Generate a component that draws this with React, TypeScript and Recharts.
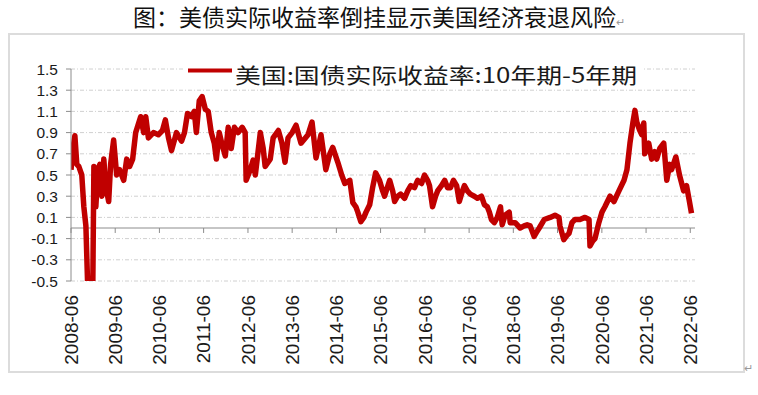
import { CSSProperties } from "react";
import { LineChart, Line, XAxis, YAxis, CartesianGrid, ReferenceLine, Legend } from "recharts";

// 美国:国债实际收益率:10年期-5年期
const dates = [
  "2008-06-01", "2008-06-17", "2008-07-03", "2008-07-19", "2008-08-05", "2008-08-29", "2008-09-15",
  "2008-10-02", "2008-10-18", "2008-11-04", "2008-11-28", "2008-12-07", "2008-12-23", "2009-01-09",
  "2009-01-25", "2009-02-11", "2009-02-27", "2009-03-14", "2009-04-08", "2009-04-24", "2009-05-19",
  "2009-06-13", "2009-07-07", "2009-08-10", "2009-09-04", "2009-09-28", "2009-10-23", "2009-11-17",
  "2009-12-28", "2010-01-22", "2010-02-08", "2010-03-02", "2010-04-13", "2010-05-23", "2010-06-26",
  "2010-07-20", "2010-08-15", "2010-09-09", "2010-10-20", "2010-12-01", "2010-12-25", "2011-01-19",
  "2011-02-21", "2011-03-16", "2011-04-02", "2011-04-26", "2011-05-20", "2011-06-15", "2011-07-09",
  "2011-08-03", "2011-08-28", "2011-09-14", "2011-10-08", "2011-11-02", "2011-11-27", "2011-12-21",
  "2012-01-15", "2012-02-10", "2012-03-12", "2012-04-15", "2012-05-09", "2012-05-17", "2012-06-20",
  "2012-07-14", "2012-08-01", "2012-09-11", "2012-10-05", "2012-10-21", "2012-12-02", "2012-12-26",
  "2013-02-07", "2013-03-09", "2013-04-03", "2013-04-28", "2013-06-01", "2013-07-03", "2013-08-13",
  "2013-10-10", "2013-11-12", "2013-12-15", "2014-01-25", "2014-03-06", "2014-04-08", "2014-05-02",
  "2014-06-13", "2014-07-15", "2014-08-10", "2014-09-20", "2014-10-15", "2014-11-09", "2014-11-25",
  "2014-12-20", "2015-01-14", "2015-02-01", "2015-03-03", "2015-03-27", "2015-04-21", "2015-05-23",
  "2015-06-18", "2015-07-04", "2015-08-15", "2015-09-09", "2015-09-25", "2015-10-20", "2015-11-14",
  "2015-12-16", "2016-01-11", "2016-02-05", "2016-03-07", "2016-04-02", "2016-05-04", "2016-05-29",
  "2016-06-23", "2016-07-09", "2016-08-03", "2016-08-28", "2016-09-14", "2016-10-16", "2016-11-11",
  "2016-12-05", "2016-12-29", "2017-01-23", "2017-02-18", "2017-03-12", "2017-04-07", "2017-04-23",
  "2017-05-17", "2017-06-11", "2017-07-14", "2017-08-08", "2017-09-11", "2017-10-05", "2017-10-29",
  "2017-11-15", "2017-12-02", "2017-12-26", "2018-01-20", "2018-02-15", "2018-03-01", "2018-03-25",
  "2018-04-28", "2018-05-06", "2018-06-16", "2018-07-27", "2018-08-29", "2018-09-23", "2018-10-18",
  "2018-11-20", "2018-12-15", "2019-01-01", "2019-02-11", "2019-04-01", "2019-05-11", "2019-06-13",
  "2019-06-21", "2019-07-23", "2019-08-18", "2019-09-04", "2019-09-28", "2019-10-23", "2019-12-03",
  "2020-01-14", "2020-02-16", "2020-02-24", "2020-03-19", "2020-04-05", "2020-05-07", "2020-06-02",
  "2020-06-26", "2020-08-07", "2020-09-09", "2020-10-20", "2020-12-01", "2020-12-25", "2021-01-19",
  "2021-02-13", "2021-03-01", "2021-03-16", "2021-04-10", "2021-04-26", "2021-05-13", "2021-05-21",
  "2021-06-23", "2021-07-17", "2021-08-12", "2021-08-28", "2021-09-22", "2021-10-25", "2021-11-19",
  "2021-12-13", "2021-12-29", "2022-02-02", "2022-03-04", "2022-04-07", "2022-05-01", "2022-05-25",
  "2022-06-11",
];

const spread = [
  0.55, 0.75, 0.87, 0.6, 0.58, 0.5, 0.2,
  0.02, -0.6, -0.65, -0.55, 0.58, 0.2, 0.55,
  0.6, 0.3, 0.65, 0.4, 0.25, 0.6, 0.83,
  0.5, 0.55, 0.45, 0.65, 0.58, 0.65, 0.9,
  1.05, 0.9, 1.05, 0.85, 0.9, 0.88, 0.92,
  1.02, 0.85, 0.73, 0.9, 0.82, 0.9, 1.08,
  1.05, 1.1, 0.9, 1.2, 1.24, 1.12, 1.1,
  0.9, 0.8, 0.65, 0.9, 0.78, 0.68, 0.95,
  0.75, 0.95, 0.9, 0.95, 0.9, 0.45, 0.55,
  0.64, 0.5, 0.9, 0.75, 0.58, 0.65, 0.85,
  0.92, 0.8, 0.62, 0.85, 0.9, 0.97, 0.8,
  0.88, 1.0, 0.66, 0.88, 0.55, 0.7, 0.76,
  0.62, 0.5, 0.42, 0.45, 0.24, 0.2, 0.15,
  0.06, 0.1, 0.15, 0.22, 0.38, 0.52, 0.45,
  0.35, 0.3, 0.45, 0.35, 0.25, 0.3, 0.32,
  0.28, 0.35, 0.4, 0.38, 0.45, 0.42, 0.5,
  0.45, 0.4, 0.2, 0.3, 0.35, 0.4, 0.45,
  0.38, 0.38, 0.45, 0.4, 0.25, 0.35, 0.4,
  0.35, 0.32, 0.3, 0.28, 0.3, 0.22, 0.2,
  0.15, 0.08, 0.05, 0.1, 0.2, 0.03, 0.12,
  0.15, 0.05, 0.05, 0.0, 0.02, 0.03, 0.02,
  -0.08, -0.03, 0.0, 0.08, 0.1, 0.12, 0.1,
  0.02, -0.11, -0.07, -0.05, 0.05, 0.08, 0.08,
  0.1, 0.08, -0.17, -0.12, -0.1, 0.05, 0.15,
  0.2, 0.3, 0.25, 0.35, 0.45, 0.55, 0.8,
  1.0, 1.11, 1.0, 0.92, 0.88, 0.99, 0.7,
  0.8, 0.65, 0.72, 0.65, 0.75, 0.8, 0.45,
  0.6, 0.55, 0.67, 0.5, 0.35, 0.4, 0.25,
  0.14,
];

const yearTicks = [
  "2008-06", "2009-06", "2010-06", "2011-06", "2012-06", "2013-06", "2014-06", "2015-06",
  "2016-06", "2017-06", "2018-06", "2019-06", "2020-06", "2021-06", "2022-06",
];
const yTicks = [-0.5, -0.3, -0.1, 0.1, 0.3, 0.5, 0.7, 0.9, 1.1, 1.3, 1.5];

const data = dates.map((d, i) => ({ t: Date.parse(d), v: spread[i] }));
const tickTimes = yearTicks.map((m) => Date.parse(m + "-01"));
const xStart = Date.parse("2008-06-01");
const xEnd = Date.parse("2022-07-10");

const RED = "#C00000";
const AXIS = "#8c8c8c";
const legendLabel = "美国:国债实际收益率:10年期-5年期";

function XTick(props: any) {
  const { x, y, payload } = props;
  const d = new Date(payload.value);
  const label = `${d.getUTCFullYear()}-${String(d.getUTCMonth() + 1).padStart(2, "0")}`;
  const yy = y + 6;
  return (
    <text
      x={x}
      y={yy}
      dy="0.36em"
      transform={`rotate(-90 ${x} ${yy})`}
      textAnchor="end"
      fontFamily='"Liberation Sans", Arial, sans-serif'
      fontSize={19}
      fill="#1a1a1a"
    >
      {label}
    </text>
  );
}

function LegendBox() {
  return (
    <svg width={460} height={30} style={{ display: "block" }}>
      <rect x={0} y={0} width={460} height={30} fill="#fff" />
      <line x1={4} x2={48} y1={12.5} y2={12.5} stroke={RED} strokeWidth={4} />
      <text
        x={51}
        y={25}
        fontFamily='"Noto Sans CJK SC", sans-serif'
        fontSize={21}
        fill="#1a1a1a"
        textLength={402}
        lengthAdjust="spacingAndGlyphs"
      >
        {legendLabel}
      </text>
    </svg>
  );
}

export default function App() {
  const page: CSSProperties = {
    position: "absolute",
    left: 0,
    top: 0,
    width: 758,
    height: 395,
    background: "#fff",
    overflow: "hidden",
  };
  const title: CSSProperties = {
    position: "absolute",
    left: 0,
    top: 0,
    width: 758,
    lineHeight: "32px",
    textAlign: "center",
    fontFamily: '"Noto Sans CJK SC", serif',
    fontSize: 23,
    color: "#111",
  };
  const frame: CSSProperties = {
    position: "absolute",
    left: 8,
    top: 33,
    width: 733,
    height: 336,
    border: "2px solid #dcdcdc",
  };
  const mark: CSSProperties = { fontSize: 11, color: "#999" };

  return (
    <div style={page}>
      <div style={title}>
        图：美债实际收益率倒挂显示美国经济衰退风险<span style={mark}>↵</span>
      </div>
      <div style={frame} />
      <span style={{ ...mark, position: "absolute", left: 744, top: 362 }}>↵</span>
      <div style={{ position: "absolute", left: 0, top: 0 }}>
        <LineChart width={758} height={395} data={data} margin={{ top: 69, right: 63, bottom: 14, left: 0 }}>
          <CartesianGrid horizontal vertical={false} stroke="#d0d0d0" strokeDasharray="4 2 1 2" />
          <XAxis
            dataKey="t"
            type="number"
            scale="time"
            domain={[xStart, xEnd]}
            ticks={tickTimes}
            allowDataOverflow
            axisLine={false}
            tickLine={false}
            height={100}
            interval={0}
            tick={<XTick />}
          />
          <YAxis
            type="number"
            domain={[-0.5, 1.5]}
            ticks={yTicks}
            allowDataOverflow
            interval={0}
            width={71}
            axisLine={{ stroke: AXIS }}
            tickLine={{ stroke: AXIS }}
            tickSize={5}
            tickMargin={8}
            tickFormatter={(v: number) => v.toFixed(1)}
            tick={{ fontFamily: '"Liberation Sans", Arial, sans-serif', fontSize: 15.5, fill: "#1a1a1a" }}
          />
          <ReferenceLine y={0} stroke={AXIS} strokeWidth={1} ifOverflow="hidden" />
          {tickTimes.map((t) => (
            <ReferenceLine
              key={t}
              segment={[{ x: t, y: 0 }, { x: t, y: -0.047 }]}
              stroke={AXIS}
              strokeWidth={1}
            />
          ))}
          <Line
            type="linear"
            dataKey="v"
            stroke={RED}
            strokeWidth={5.5}
            strokeLinejoin="round"
            dot={false}
            isAnimationActive={false}
          />
          <Legend
            layout="horizontal"
            verticalAlign="middle"
            align="center"
            content={<LegendBox />}
            wrapperStyle={{ left: 184, top: 58, width: 460, height: 30 }}
          />
        </LineChart>
      </div>
    </div>
  );
}
